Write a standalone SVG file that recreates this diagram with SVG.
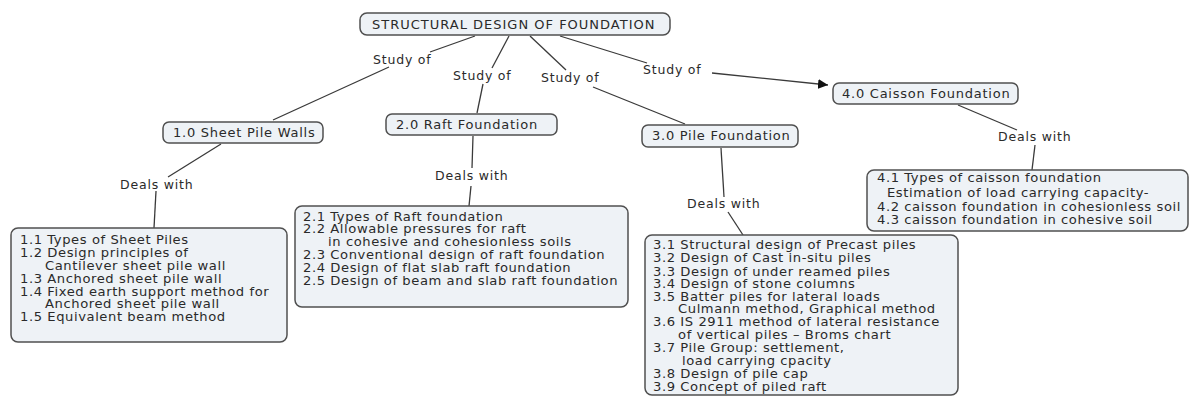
<svg xmlns="http://www.w3.org/2000/svg" width="1190" height="397" viewBox="0 0 1190 397">
<style>
.box{fill:#eef2f6;stroke:#505050;stroke-width:1.5}
.t{font-family:"DejaVu Sans",Verdana,sans-serif;font-size:11.5px;letter-spacing:0.5px;fill:#2a2a2a}
.h{font-family:"DejaVu Sans",Verdana,sans-serif;font-size:13px;letter-spacing:0.75px;fill:#2a2a2a}
.lbl{font-family:"DejaVu Sans",Verdana,sans-serif;font-size:12.5px;letter-spacing:0.8px;fill:#2a2a2a}
.c{stroke:#3a3a3a;stroke-width:1.3;fill:none}
</style>
<defs>
<marker id="arr" viewBox="0 0 10 10" refX="10" refY="5" markerWidth="10" markerHeight="10" markerUnits="userSpaceOnUse" orient="auto">
<path d="M0,0 L10,5 L0,10 z" fill="#111"/>
</marker>
</defs>
<rect width="1190" height="397" fill="#fff"/>
<g id="connectors">
<line class="c" x1="475" y1="36" x2="430" y2="52"/>
<line class="c" x1="389" y1="67" x2="273" y2="120"/>
<line class="c" x1="509" y1="36" x2="492" y2="68"/>
<line class="c" x1="483" y1="84" x2="477" y2="113"/>
<line class="c" x1="530" y1="36" x2="566" y2="70"/>
<line class="c" x1="593" y1="87" x2="685" y2="124"/>
<line class="c" x1="560" y1="36" x2="647" y2="63"/>
<line class="c" x1="712" y1="73" x2="828" y2="85" marker-end="url(#arr)"/>
<line class="c" x1="221" y1="144" x2="168" y2="177"/>
<line class="c" x1="156" y1="191" x2="154" y2="228"/>
<line class="c" x1="473" y1="136" x2="472" y2="168"/>
<line class="c" x1="471" y1="186" x2="469" y2="206"/>
<line class="c" x1="721" y1="148" x2="724" y2="197"/>
<line class="c" x1="728" y1="212" x2="743" y2="235"/>
<line class="c" x1="958" y1="105" x2="1017" y2="130"/>
<line class="c" x1="1035" y1="145" x2="1032" y2="170"/>
<text class="lbl" x="373" y="64">Study of</text>
<text class="lbl" x="453" y="80">Study of</text>
<text class="lbl" x="541" y="82">Study of</text>
<text class="lbl" x="643" y="74">Study of</text>
<text class="lbl" x="120" y="189">Deals with</text>
<text class="lbl" x="435" y="180">Deals with</text>
<text class="lbl" x="687" y="208">Deals with</text>
<text class="lbl" x="998" y="141">Deals with</text>
</g>
<g id="root">
<rect class="box" x="360" y="13" width="310" height="22" rx="7"/>
<text class="h" x="372" y="29" style="letter-spacing:1px">STRUCTURAL DESIGN OF FOUNDATION</text>
</g>
<g id="n1">
<rect class="box" x="163" y="122" width="160" height="21" rx="6"/>
<text class="h" x="173" y="137">1.0 Sheet Pile Walls</text>
</g>
<g id="n2">
<rect class="box" x="386" y="114" width="171" height="21" rx="6"/>
<text class="h" x="396" y="129">2.0 Raft Foundation</text>
</g>
<g id="n3">
<rect class="box" x="642" y="125" width="156" height="22" rx="6"/>
<text class="h" x="652" y="140">3.0 Pile Foundation</text>
</g>
<g id="n4">
<rect class="box" x="833" y="83" width="185" height="21" rx="6"/>
<text class="h" x="842" y="98">4.0 Caisson Foundation</text>
</g>
<g id="n1d">
<rect class="box" x="11" y="228" width="276" height="114" rx="7"/>
<g transform="translate(20,0) scale(1.143,1)">
<text class="t" x="0" y="244">1.1 Types of Sheet Piles</text>
<text class="t" x="0" y="257">1.2 Design principles of</text>
<text class="t" x="21.9" y="270">Cantilever sheet pile wall</text>
<text class="t" x="0" y="283">1.3 Anchored sheet pile wall</text>
<text class="t" x="0" y="296">1.4 Fixed earth support method for</text>
<text class="t" x="21.9" y="308">Anchored sheet pile wall</text>
<text class="t" x="0" y="321">1.5 Equivalent beam method</text>
</g>
</g>
<g id="n2d">
<rect class="box" x="295" y="206" width="333" height="101" rx="7"/>
<g transform="translate(303,0) scale(1.143,1)">
<text class="t" x="0" y="221">2.1 Types of Raft foundation</text>
<text class="t" x="0" y="233">2.2 Allowable pressures for raft</text>
<text class="t" x="21.9" y="246">in cohesive and cohesionless soils</text>
<text class="t" x="0" y="259">2.3 Conventional design of raft foundation</text>
<text class="t" x="0" y="272">2.4 Design of flat slab raft foundation</text>
<text class="t" x="0" y="285">2.5 Design of beam and slab raft foundation</text>
</g>
</g>
<g id="n3d">
<rect class="box" x="645" y="235" width="313" height="160" rx="7"/>
<g transform="translate(653,0) scale(1.143,1)">
<text class="t" x="0" y="249">3.1 Structural design of Precast piles</text>
<text class="t" x="0" y="262">3.2 Design of Cast in-situ piles</text>
<text class="t" x="0" y="276">3.3 Design of under reamed piles</text>
<text class="t" x="0" y="288">3.4 Design of stone columns</text>
<text class="t" x="0" y="301">3.5 Batter piles for lateral loads</text>
<text class="t" x="21.9" y="313">Culmann  method, Graphical method</text>
<text class="t" x="0" y="326">3.6 IS 2911 method of lateral resistance</text>
<text class="t" x="21.9" y="339">of vertical piles – Broms chart</text>
<text class="t" x="0" y="352">3.7 Pile Group: settlement,</text>
<text class="t" x="25.4" y="365">load carrying cpacity</text>
<text class="t" x="0" y="378">3.8 Design of pile cap</text>
<text class="t" x="0" y="391">3.9 Concept of piled raft</text>
</g>
</g>
<g id="n4d">
<rect class="box" x="867" y="170" width="321" height="61" rx="7"/>
<g transform="translate(877,0) scale(1.143,1)">
<text class="t" x="0" y="182">4.1 Types of caisson foundation</text>
<text class="t" x="8.75" y="197">Estimation of load carrying capacity-</text>
<text class="t" x="0" y="211">4.2 caisson foundation in cohesionless soil</text>
<text class="t" x="0" y="224">4.3 caisson foundation in cohesive soil</text>
</g>
</g>
</svg>
